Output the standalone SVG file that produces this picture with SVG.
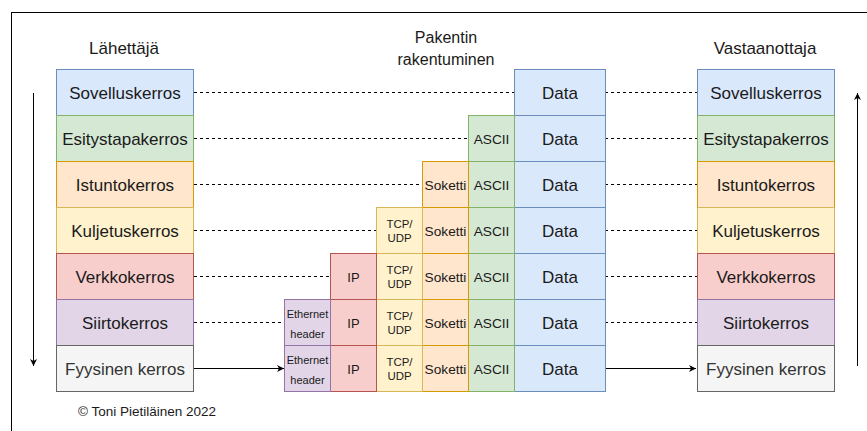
<svg xmlns="http://www.w3.org/2000/svg" width="867" height="431" viewBox="0 0 867 431">
<style>
text{font-family:"Liberation Sans",Arial,sans-serif;fill:#1a1a1a;text-anchor:middle;dominant-baseline:central}
.l{font-size:17px}
.t{font-size:16px}
.m{font-size:13.7px}
.ip{font-size:13px}
.s{font-size:11.4px}
.xs{font-size:11px}
.c{font-size:13.5px}
.blue{fill:#dae8fc;stroke:#6c8ebf}
.green{fill:#d5e8d4;stroke:#82b366}
.orange{fill:#ffe6cc;stroke:#d79b00}
.yellow{fill:#fff2cc;stroke:#d6b656}
.red{fill:#f8cecc;stroke:#b85450}
.purple{fill:#e1d5e7;stroke:#9673a6}
.gray{fill:#f5f5f5;stroke:#666666}
.dash{stroke:#000;stroke-dasharray:3 3;fill:none}
.solid{stroke:#000;fill:none}
</style>
<defs>
<marker id="ah" markerWidth="8" markerHeight="8" refX="7" refY="4" orient="auto" markerUnits="userSpaceOnUse">
<path d="M0,0.5 L7,4 L0,7.5 L2,4 Z" fill="#000"/>
</marker>
</defs>
<rect x="11.5" y="12.5" width="870" height="430" fill="#fff" stroke="#000"/>
<text class="l" x="124" y="48">Lähettäjä</text>
<text class="t" x="446" y="37">Pakentin</text>
<text class="t" x="446" y="59">rakentuminen</text>
<text class="l" x="765" y="48">Vastaanottaja</text>
<text class="c" x="147" y="411">© Toni Pietiläinen 2022</text>

<g id="connectors">
<line class="dash" x1="194" y1="92.5" x2="514" y2="92.5"/>
<line class="dash" x1="194" y1="138.5" x2="468" y2="138.5"/>
<line class="dash" x1="194" y1="184.5" x2="423" y2="184.5"/>
<line class="dash" x1="194" y1="230.5" x2="377" y2="230.5"/>
<line class="dash" x1="194" y1="276.5" x2="331" y2="276.5"/>
<line class="dash" x1="194" y1="322.5" x2="285" y2="322.5"/>
<line class="solid" x1="194" y1="368.5" x2="284" y2="368.5" marker-end="url(#ah)"/>
<line class="dash" x1="605" y1="92.5" x2="697" y2="92.5"/>
<line class="dash" x1="605" y1="138.5" x2="697" y2="138.5"/>
<line class="dash" x1="605" y1="184.5" x2="697" y2="184.5"/>
<line class="dash" x1="605" y1="230.5" x2="697" y2="230.5"/>
<line class="dash" x1="605" y1="276.5" x2="697" y2="276.5"/>
<line class="dash" x1="605" y1="322.5" x2="697" y2="322.5"/>
<line class="solid" x1="605" y1="368.5" x2="696" y2="368.5" marker-end="url(#ah)"/>
<line class="solid" x1="33.5" y1="93" x2="33.5" y2="366" marker-end="url(#ah)"/>
<line class="solid" x1="857.5" y1="366" x2="857.5" y2="93" marker-end="url(#ah)"/>
</g>

<g id="sender">
<g id="s1"><rect class="blue" x="56.5" y="69.5" width="137" height="46"/><text class="l" x="125" y="93">Sovelluskerros</text></g>
<g id="s2"><rect class="green" x="56.5" y="115.5" width="137" height="46"/><text class="l" x="125" y="139">Esitystapakerros</text></g>
<g id="s3"><rect class="orange" x="56.5" y="161.5" width="137" height="46"/><text class="l" x="125" y="185">Istuntokerros</text></g>
<g id="s4"><rect class="yellow" x="56.5" y="207.5" width="137" height="46"/><text class="l" x="125" y="231">Kuljetuskerros</text></g>
<g id="s5"><rect class="red" x="56.5" y="253.5" width="137" height="46"/><text class="l" x="125" y="277">Verkkokerros</text></g>
<g id="s6"><rect class="purple" x="56.5" y="299.5" width="137" height="46"/><text class="l" x="125" y="323">Siirtokerros</text></g>
<g id="s7"><rect class="gray" x="56.5" y="345.5" width="137" height="46"/><text class="l" x="125" y="369" style="fill:#333">Fyysinen kerros</text></g>
</g>

<g id="receiver">
<g id="r1"><rect class="blue" x="697.5" y="69.5" width="137" height="46"/><text class="l" x="766" y="93">Sovelluskerros</text></g>
<g id="r2"><rect class="green" x="697.5" y="115.5" width="137" height="46"/><text class="l" x="766" y="139">Esitystapakerros</text></g>
<g id="r3"><rect class="orange" x="697.5" y="161.5" width="137" height="46"/><text class="l" x="766" y="185">Istuntokerros</text></g>
<g id="r4"><rect class="yellow" x="697.5" y="207.5" width="137" height="46"/><text class="l" x="766" y="231">Kuljetuskerros</text></g>
<g id="r5"><rect class="red" x="697.5" y="253.5" width="137" height="46"/><text class="l" x="766" y="277">Verkkokerros</text></g>
<g id="r6"><rect class="purple" x="697.5" y="299.5" width="137" height="46"/><text class="l" x="766" y="323">Siirtokerros</text></g>
<g id="r7"><rect class="gray" x="697.5" y="345.5" width="137" height="46"/><text class="l" x="766" y="369" style="fill:#333">Fyysinen kerros</text></g>
</g>

<g id="data">
<rect class="blue" x="514.5" y="69.5" width="91" height="46"/><text class="l" x="560" y="93">Data</text>
<rect class="blue" x="514.5" y="115.5" width="91" height="46"/><text class="l" x="560" y="139">Data</text>
<rect class="blue" x="514.5" y="161.5" width="91" height="46"/><text class="l" x="560" y="185">Data</text>
<rect class="blue" x="514.5" y="207.5" width="91" height="46"/><text class="l" x="560" y="231">Data</text>
<rect class="blue" x="514.5" y="253.5" width="91" height="46"/><text class="l" x="560" y="277">Data</text>
<rect class="blue" x="514.5" y="299.5" width="91" height="46"/><text class="l" x="560" y="323">Data</text>
<rect class="blue" x="514.5" y="345.5" width="91" height="46"/><text class="l" x="560" y="369">Data</text>
</g>
<g id="ascii">
<rect class="green" x="468.5" y="115.5" width="46" height="46"/><text class="m" x="491.5" y="139">ASCII</text>
<rect class="green" x="468.5" y="161.5" width="46" height="46"/><text class="m" x="491.5" y="185">ASCII</text>
<rect class="green" x="468.5" y="207.5" width="46" height="46"/><text class="m" x="491.5" y="231">ASCII</text>
<rect class="green" x="468.5" y="253.5" width="46" height="46"/><text class="m" x="491.5" y="277">ASCII</text>
<rect class="green" x="468.5" y="299.5" width="46" height="46"/><text class="m" x="491.5" y="323">ASCII</text>
<rect class="green" x="468.5" y="345.5" width="46" height="46"/><text class="m" x="491.5" y="369">ASCII</text>
</g>
<g id="soketti">
<rect class="orange" x="422.5" y="161.5" width="46" height="46"/><text class="m" x="445.5" y="185">Soketti</text>
<rect class="orange" x="422.5" y="207.5" width="46" height="46"/><text class="m" x="445.5" y="231">Soketti</text>
<rect class="orange" x="422.5" y="253.5" width="46" height="46"/><text class="m" x="445.5" y="277">Soketti</text>
<rect class="orange" x="422.5" y="299.5" width="46" height="46"/><text class="m" x="445.5" y="323">Soketti</text>
<rect class="orange" x="422.5" y="345.5" width="46" height="46"/><text class="m" x="445.5" y="369">Soketti</text>
</g>
<g id="tcp">
<rect class="yellow" x="376.5" y="207.5" width="46" height="46"/><text class="s" x="399.5" y="224">TCP/</text><text class="s" x="399.5" y="238">UDP</text>
<rect class="yellow" x="376.5" y="253.5" width="46" height="46"/><text class="s" x="399.5" y="270">TCP/</text><text class="s" x="399.5" y="284">UDP</text>
<rect class="yellow" x="376.5" y="299.5" width="46" height="46"/><text class="s" x="399.5" y="316">TCP/</text><text class="s" x="399.5" y="330">UDP</text>
<rect class="yellow" x="376.5" y="345.5" width="46" height="46"/><text class="s" x="399.5" y="362">TCP/</text><text class="s" x="399.5" y="376">UDP</text>
</g>
<g id="ip">
<rect class="red" x="330.5" y="253.5" width="46" height="46"/><text class="ip" x="353.5" y="277">IP</text>
<rect class="red" x="330.5" y="299.5" width="46" height="46"/><text class="ip" x="353.5" y="323">IP</text>
<rect class="red" x="330.5" y="345.5" width="46" height="46"/><text class="ip" x="353.5" y="369">IP</text>
</g>
<g id="ethernet">
<rect class="purple" x="284.5" y="299.5" width="46" height="46"/><text class="xs" x="307.5" y="314">Ethernet</text><text class="xs" x="307.5" y="334">header</text>
<rect class="purple" x="284.5" y="345.5" width="46" height="46"/><text class="xs" x="307.5" y="360">Ethernet</text><text class="xs" x="307.5" y="380">header</text>
</g>
</svg>
